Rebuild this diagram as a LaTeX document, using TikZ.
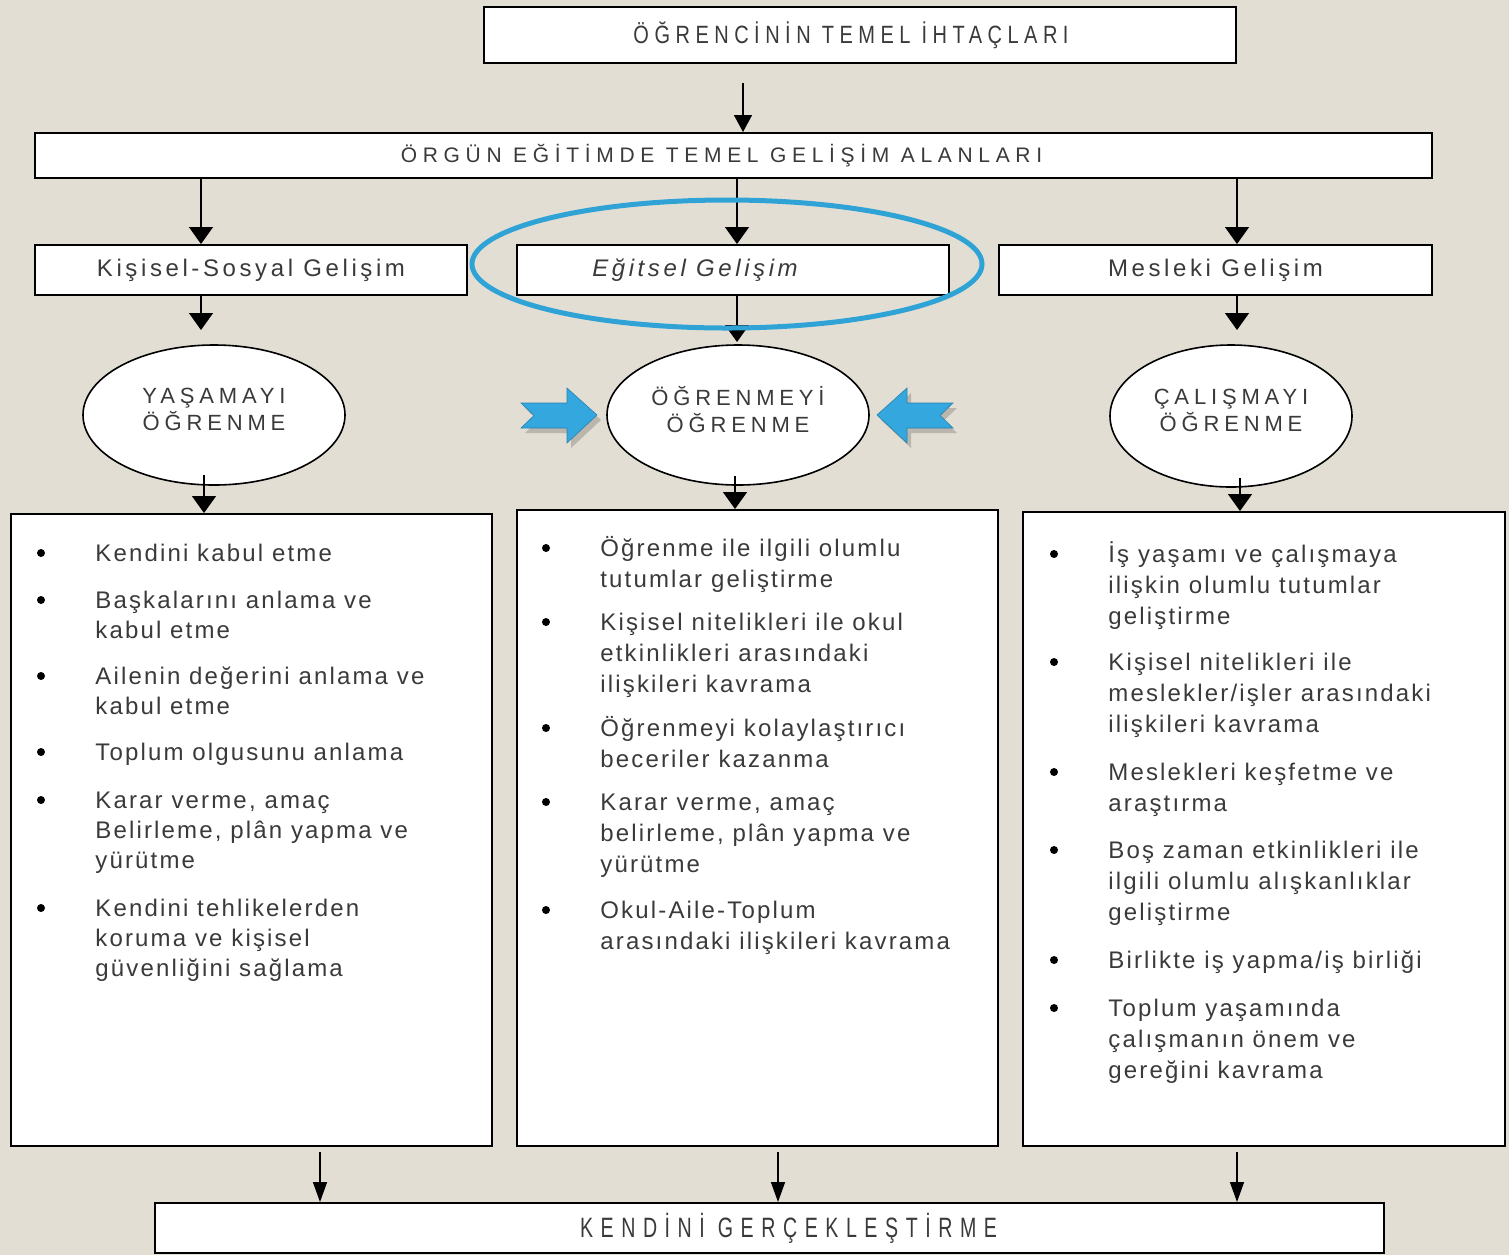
\documentclass[tikz,border=0pt]{standalone}
\usepackage{fontspec}
\setmainfont{Liberation Sans}
\newfontfamily\listfont[LetterSpace=9]{Liberation Sans}
\newfontfamily\headfont[LetterSpace=15]{Liberation Sans}
\newfontfamily\ovalfont[LetterSpace=22]{Liberation Sans}
\newfontfamily\narrowfont[FakeStretch=0.8,LetterSpace=22]{Liberation Sans}
\newfontfamily\widefont[LetterSpace=27]{Liberation Sans}
\newfontfamily\endfont[FakeStretch=0.7,LetterSpace=27]{Liberation Sans}
\usetikzlibrary{arrows.meta,shapes.geometric}
\definecolor{bg}{RGB}{227,222,212}
\definecolor{ink}{RGB}{58,58,58}
\definecolor{hl}{RGB}{48,163,214}
\definecolor{hlfill}{RGB}{52,168,222}
\newcommand\bitem[5]{%
  \node[itm,font=\listfont\fontsize{12}{#5}\selectfont] (#1) at (#2,#3) {\rule{0pt}{12pt}#4};
  \fill[black] ([xshift=-27pt,yshift=-8pt]#1.north west) circle (2pt);}
\begin{document}
\begin{tikzpicture}[x=0.5pt,y=-0.5pt,
  box/.style={draw=black,line width=1pt,fill=white,inner sep=0pt,text=ink},
  oval/.style={ellipse,draw=black,line width=0.8pt,fill=white,inner sep=0pt,text=ink,align=center,
    font=\ovalfont\fontsize{11}{13.5}\selectfont},
  arr/.style={line width=0.75pt,-{Triangle[width=12pt,length=8.5pt]}},
  arrtop/.style={line width=0.75pt,-{Triangle[width=9pt,length=8.5pt]}},
  arrbot/.style={line width=0.75pt,-{Triangle[width=7pt,length=10pt]}},
  itm/.style={anchor=north west,inner sep=0pt,align=left,text=ink},
  bluearrow/.style={fill=hlfill,draw=hl!80!black,line width=0.3pt}]
\fill[bg] (0,0) rectangle (1509,1255);
\useasboundingbox (0,0) rectangle (1509,1255);

% boxes
\node[box,minimum width=376pt,minimum height=28pt,font=\narrowfont\fontsize{12.5}{14}\selectfont] (top) at (860,35) {\hspace*{-9pt}ÖĞRENCİNİN TEMEL İHTAÇLARI};
\node[box,minimum width=698.5pt,minimum height=22.5pt,font=\widefont\fontsize{10.5}{12}\selectfont] (alan) at (733.5,155.5) {\hspace*{-12pt}ÖRGÜN EĞİTİMDE TEMEL GELİŞİM ALANLARI};
\node[box,minimum width=216pt,minimum height=25pt,font=\headfont\fontsize{12}{14}\selectfont] (kisisel) at (251,270) {Kişisel-Sosyal Gelişim};
\node[box,minimum width=216pt,minimum height=25pt,font=\headfont\itshape\fontsize{12}{14}\selectfont] (egitsel) at (733,270) {\hspace*{-38pt}Eğitsel Gelişim};
\node[box,minimum width=216.5pt,minimum height=25pt,font=\headfont\fontsize{12}{14}\selectfont] (mesleki) at (1215.5,270) {Mesleki Gelişim};

% ellipses
\node[oval,minimum width=131pt,minimum height=70pt] (yasama) at (214,415) {YAŞAMAYI\\ÖĞRENME\\[-8pt]\mbox{}};
\node[oval,minimum width=131pt,minimum height=70pt] (ogrenme) at (738,415) {ÖĞRENMEYİ\\ÖĞRENME\\[-8pt]\mbox{}};
\node[oval,minimum width=121pt,minimum height=71pt] (calisma) at (1231,416) {ÇALIŞMAYI\\ÖĞRENME\\[-8pt]\mbox{}};

% list boxes
\node[box,minimum width=240.5pt,minimum height=316pt] (lb1) at (251.5,830) {};
\node[box,minimum width=240.5pt,minimum height=318pt] (lb2) at (757.5,828) {};
\node[box,minimum width=241pt,minimum height=317pt] (lb3) at (1264,829) {};

% bottom box
\node[box,minimum width=614.5pt,minimum height=25pt,font=\endfont\fontsize{14}{16}\selectfont] (son) at (769.5,1228) {\hspace*{19pt}KENDİNİ GERÇEKLEŞTİRME};

% coordinates for connector free ends
\coordinate (t1) at (743,83);
\coordinate (c1) at (201,0);
\coordinate (c2) at (737,0);
\coordinate (c3) at (1237,0);
\coordinate (p1) at (201,330);
\coordinate (p2) at (737,342);
\coordinate (p3) at (1237,330);
\coordinate (q1) at (204,475);
\coordinate (q2) at (735,476);
\coordinate (q3) at (1240,478);
\coordinate (r1) at (320,1152);
\coordinate (r2) at (778,1152);
\coordinate (r3) at (1237,1152);

% connectors
\draw[arrtop] (t1) -- (t1 |- alan.north);
\draw[arr] (alan.south -| c1) -- (kisisel.north -| c1);
\draw[arr] (alan.south -| c2) -- (egitsel.north -| c2);
\draw[arr] (alan.south -| c3) -- (mesleki.north -| c3);
\draw[arr] (kisisel.south -| c1) -- (p1);
\draw[arr] (egitsel.south -| c2) -- (p2);
\draw[arr] (mesleki.south -| c3) -- (p3);
\draw[arr] (q1) -- (lb1.north -| q1);
\draw[arr] (q2) -- (lb2.north -| q2);
\draw[arr] (q3) -- (lb3.north -| q3);
\draw[arrbot] (r1) -- (son.north -| r1);
\draw[arrbot] (r2) -- (son.north -| r2);
\draw[arrbot] (r3) -- (son.north -| r3);

% highlight
\node[ellipse,draw=hl,line width=2.5pt,minimum width=255pt,minimum height=64pt,inner sep=0pt] (vurgu) at (727,264) {};
\fill[black,opacity=0.18] (525,408) -- (571,408) -- (571,393) -- (601,420) -- (571,448) -- (571,433) -- (525,433) -- (538,420.5) -- cycle;
\fill[black,opacity=0.18] (957,408) -- (911,408) -- (911,393) -- (881,420) -- (911,448) -- (911,433) -- (957,433) -- (944,420.5) -- cycle;
\path[bluearrow] (521,403) -- (567,403) -- (567,388) -- (597,415) -- (567,443) -- (567,428) -- (521,428) -- (534,415.5) -- cycle;
\path[bluearrow] (953,403) -- (907,403) -- (907,388) -- (877,415) -- (907,443) -- (907,428) -- (953,428) -- (940,415.5) -- cycle;

% list items
\bitem{la}{95}{537}{Kendini kabul etme}{15}
\bitem{lb}{95}{584}{Başkalarını anlama ve\\kabul etme}{15}
\bitem{lc}{95}{660}{Ailenin değerini anlama ve\\kabul etme}{15}
\bitem{ld}{95}{736}{Toplum olgusunu anlama}{15}
\bitem{le}{95}{784}{Karar verme, amaç\\Belirleme, plân yapma ve\\yürütme}{15}
\bitem{lf}{95}{892}{Kendini tehlikelerden\\koruma ve kişisel\\güvenliğini sağlama}{15}

\bitem{ma}{600}{532}{Öğrenme ile ilgili olumlu\\tutumlar geliştirme}{15.5}
\bitem{mb}{600}{606}{Kişisel nitelikleri ile okul\\etkinlikleri arasındaki\\ilişkileri kavrama}{15.5}
\bitem{mc}{600}{712}{Öğrenmeyi kolaylaştırıcı\\beceriler kazanma}{15.5}
\bitem{md}{600}{786}{Karar verme, amaç\\belirleme, plân yapma ve\\yürütme}{15.5}
\bitem{me}{600}{894}{Okul-Aile-Toplum\\arasındaki ilişkileri kavrama}{15.5}

\bitem{ra}{1108}{538}{İş yaşamı ve çalışmaya\\ilişkin olumlu tutumlar\\geliştirme}{15.5}
\bitem{rb}{1108}{646}{Kişisel nitelikleri ile\\meslekler/işler arasındaki\\ilişkileri kavrama}{15.5}
\bitem{rc}{1108}{756}{Meslekleri keşfetme ve\\araştırma}{15.5}
\bitem{rd}{1108}{834}{Boş zaman etkinlikleri ile\\ilgili olumlu alışkanlıklar\\geliştirme}{15.5}
\bitem{re}{1108}{944}{Birlikte iş yapma/iş birliği}{15.5}
\bitem{rf}{1108}{992}{Toplum yaşamında\\çalışmanın önem ve\\gereğini kavrama}{15.5}
\end{tikzpicture}
\end{document}
